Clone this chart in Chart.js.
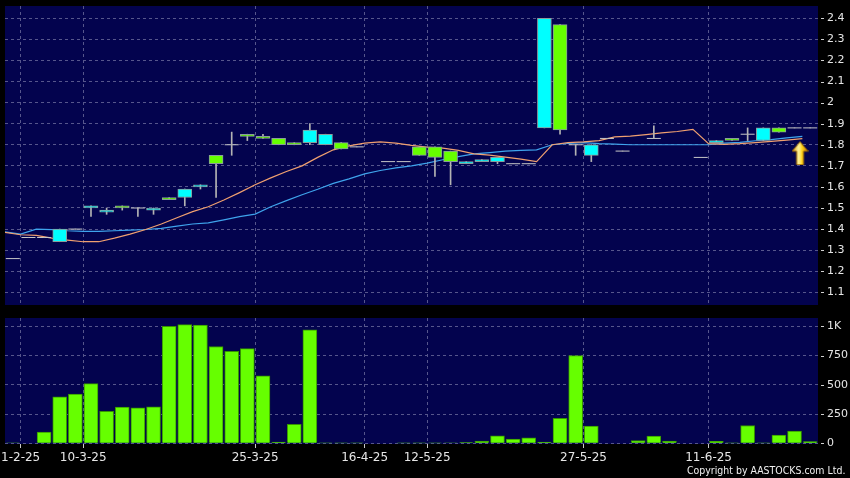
<!DOCTYPE html>
<html>
<head>
<meta charset="utf-8">
<title>Price and volume chart</title>
<script src="https://cdn.jsdelivr.net/npm/chart.js@4.4.1/dist/chart.umd.min.js"></script>
<style>
  html, body { margin:0; padding:0; background:#000; width:850px; height:478px; overflow:hidden; }
  canvas { position:absolute; left:0; display:block; }
  #priceCanvas { top:0; }
  #volumeCanvas { top:310px; }
  #copyright { position:absolute; left:687px; top:464px; color:#f0f0f0; font-family:"DejaVu Sans"; font-size:11px; line-height:normal; white-space:nowrap; transform-origin:0 0; transform:scaleX(0.855); }
</style>
</head>
<body>
<canvas id="priceCanvas" width="850" height="310"></canvas>
<canvas id="volumeCanvas" width="850" height="168"></canvas>
<div id="copyright">Copyright by AASTOCKS.com Ltd.</div>
<script>
// ---------------- data ----------------
const openPrice  = [1.26,1.36,1.36,1.34,1.40,1.50,1.48,1.51,1.50,1.49, 1.55,1.55,1.60,1.75,1.80,1.85,1.84,1.83,1.81,1.81, 1.80,1.81,1.79,null,1.72,1.72,1.79,1.79,1.77,1.71, 1.72,1.72,1.71,1.71,1.88,2.37,1.80,1.75,1.83,1.77, null,1.83,null,null,1.74,1.81,1.83,1.85,1.82,1.88, 1.88,1.88];
const highPrice  = [1.26,1.36,1.36,1.40,1.40,1.51,1.50,1.51,1.50,1.50, 1.55,1.59,1.61,1.75,1.86,1.85,1.85,1.83,1.81,1.90, 1.85,1.81,1.79,null,1.72,1.72,1.79,1.79,1.77,1.72, 1.73,1.74,1.71,1.71,2.40,2.37,1.80,1.80,1.83,1.77, null,1.89,null,null,1.74,1.82,1.83,1.88,1.88,1.88, 1.88,1.88];
const lowPrice   = [1.26,1.36,1.36,1.34,1.40,1.46,1.47,1.49,1.46,1.47, 1.54,1.51,1.59,1.55,1.75,1.82,1.83,1.80,1.80,1.80, 1.80,1.78,1.79,null,1.72,1.72,1.75,1.65,1.61,1.71, 1.72,1.71,1.71,1.71,1.88,1.85,1.75,1.72,1.83,1.77, null,1.83,null,null,1.74,1.81,1.82,1.82,1.82,1.86, 1.88,1.88];
const closePrice = [1.26,1.36,1.36,1.40,1.40,1.51,1.49,1.50,1.50,1.50, 1.54,1.59,1.61,1.71,1.80,1.84,1.83,1.80,1.80,1.87, 1.85,1.78,1.79,null,1.72,1.72,1.75,1.74,1.72,1.72, 1.73,1.74,1.71,1.71,2.40,1.87,1.80,1.80,1.83,1.77, null,1.83,null,null,1.74,1.82,1.82,1.85,1.88,1.86, 1.88,1.88];
const volume     = [5,0,95,397,422,511,273,310,304,313, 1000,1015,1011,828,787,810,578,10,162,971, 4,3,3,0,0,4,3,4,5,6, 18,64,36,47,10,213,750,148,0,0, 24,62,18,0,0,16,4,152,4,70, 104,15];
const maShort    = [1.384,1.373,1.370,1.357,1.348,1.340,1.340,1.357,1.376,1.398, 1.424,1.454,1.483,1.506,1.538,1.573,1.610,1.643,1.673,1.700, 1.740,1.776,1.795,1.808,1.814,1.808,1.797,1.789,1.784,1.773, 1.757,1.751,1.741,1.732,1.720,1.800,1.810,1.814,1.820,1.837, 1.841,1.848,1.856,1.863,1.873,1.805,1.802,1.805,1.810,1.816, 1.822,1.829];
const maLong     = [1.387,1.376,1.400,1.397,1.392,1.389,1.389,1.392,1.395,1.398, 1.403,1.414,1.424,1.429,1.444,1.459,1.471,1.506,1.535,1.563, 1.589,1.617,1.638,1.662,1.678,1.690,1.700,1.713,1.729,1.744, 1.757,1.763,1.770,1.773,1.776,1.800,1.806,1.810,1.805,1.803, 1.800,1.800,1.800,1.800,1.800,1.800,1.808,1.811,1.819,1.824, 1.833,1.840];
const dateLabels = ['1-2-25','10-3-25','25-3-25','16-4-25','12-5-25','27-5-25','11-6-25'];
const dateSlots  = [1,5,16,23,27,37,45];
const priceTicks = [1.1,1.2,1.3,1.4,1.5,1.6,1.7,1.8,1.9,2,2.1,2.2,2.3,2.4];
const volumeTicks = [0,250,500,750,1000];
const volumeTickLabels = ['0','250','500','750','1K'];
const arrowX = [50.85];
const arrowY = [1.76];

// ---------------- styles ----------------
const NAVY = '#03034e';
const GRID = '#56568c';
const CYAN = '#00ffff';
const LIME = '#66ff00';
const TEXT = '#e6e6e6';
const FONT = 'DejaVu Sans';
const slotCount = openPrice.length;
const slots = openPrice.map((_, i) => i);

Chart.defaults.font.family = FONT;

const panelPlugin = {
  id: 'panel',
  beforeDraw(chart) {
    const {ctx, chartArea: a} = chart;
    ctx.save();
    ctx.fillStyle = '#000';
    ctx.fillRect(0, 0, chart.width, chart.height);
    ctx.fillStyle = NAVY;
    ctx.fillRect(a.left, a.top, a.right - a.left, a.bottom - a.top);
    ctx.restore();
  },
  afterDraw(chart) {
    const ys = chart.scales.y;
    const {ctx, chartArea: a} = chart;
    ctx.save();
    ctx.strokeStyle = '#d0d0d0';
    ctx.lineWidth = 1;
    ys.ticks.forEach(t => {
      const py = Math.round(ys.getPixelForValue(t.value)) + 0.5;
      ctx.beginPath();
      ctx.moveTo(a.right + 3, py);
      ctx.lineTo(a.right + 6, py);
      ctx.stroke();
    });
    ctx.restore();
  }
};

function xScale(showLabels) {
  return {
    type: 'linear', min: 0, max: slotCount, offset: false, bounds: 'data',
    afterBuildTicks: s => { s.ticks = dateSlots.map(v => ({value: v})); },
    afterFit: s => { s.paddingLeft = 0; s.paddingRight = 0; s.height = showLabels ? 20 : 0; },
    grid: { display: true, color: GRID, lineWidth: 1, drawTicks: showLabels, tickLength: 4, tickColor: '#c8c8c8', tickBorderDash: [], offset: false },
    border: { display: false, dash: [3, 3] },
    ticks: { display: showLabels, autoSkip: false, maxRotation: 0, minRotation: 0, padding: 3, color: TEXT,
             font: {family: FONT, size: 12}, callback: (v, i) => dateLabels[i] }
  };
}

function yScale(min, max, tickValues, labelFn) {
  return {
    type: 'linear', position: 'right', min: min, max: max, bounds: 'data',
    afterBuildTicks: s => { s.ticks = tickValues.map(v => ({value: v})); },
    afterFit: s => { s.width = 32; s.paddingTop = 0; s.paddingBottom = 0; },
    grid: { color: GRID, lineWidth: 1, drawTicks: false },
    border: { display: false, dash: [3, 3] },
    ticks: { padding: 9, color: TEXT, font: {family: FONT, size: 11}, callback: labelFn }
  };
}

function makeArrow() {
  const c = document.createElement('canvas');
  c.width = 17; c.height = 24;
  const g = c.getContext('2d');
  const grad = g.createLinearGradient(0, 0, 17, 0);
  grad.addColorStop(0, '#c98500');
  grad.addColorStop(0.42, '#fff6a0');
  grad.addColorStop(0.62, '#ffd21a');
  grad.addColorStop(1, '#b87000');
  g.beginPath();
  g.moveTo(8.5, 0.5);
  g.lineTo(16.5, 10);
  g.lineTo(12, 10);
  g.lineTo(12, 23.5);
  g.lineTo(5, 23.5);
  g.lineTo(5, 10);
  g.lineTo(0.5, 10);
  g.closePath();
  g.fillStyle = grad;
  g.fill();
  g.strokeStyle = '#9a6400';
  g.lineWidth = 1;
  g.stroke();
  return c;
}

// ---------------- derived datasets ----------------
const isBody = i => openPrice[i] !== null && openPrice[i] !== closePrice[i];
const isDoji = i => openPrice[i] !== null && openPrice[i] === closePrice[i];
const bodyData = slots.map(i => ({x: i + 0.5, y: isBody(i) ? [openPrice[i], closePrice[i]] : null}));
const bodyColors = slots.map(i => (closePrice[i] > openPrice[i] ? CYAN : LIME));
const wickData = slots.map(i => ({x: i + 0.5, y: openPrice[i] === null ? null : [lowPrice[i], highPrice[i]]}));
const dojiData = slots.map(i => ({x: i + 0.5, y: isDoji(i) ? closePrice[i] : null}));
const shortData = slots.map(i => ({x: i, y: maShort[i]}));
const longData = slots.map(i => ({x: i, y: maLong[i]}));
const arrowData = arrowX.map((x, k) => ({x: x, y: arrowY[k]}));
const volumeData = slots.map(i => ({x: i + 0.5, y: volume[i]}));

new Chart(document.getElementById('priceCanvas'), {
  type: 'bar',
  data: {
    datasets: [
      { type: 'line', data: arrowData, showLine: false, pointStyle: makeArrow(), pointRadius: 8, order: 0 },
      { type: 'bar', data: bodyData, backgroundColor: bodyColors, borderColor: '#8a9c9c', borderWidth: 1,
        borderSkipped: false, grouped: false, barThickness: 14, maxBarThickness: 14, order: 1 },
      { type: 'bar', data: wickData, backgroundColor: '#b4b4b4', borderWidth: 0, grouped: false,
        barThickness: 1, maxBarThickness: 1, order: 2 },
      { type: 'line', data: dojiData, showLine: false, pointStyle: 'line', pointRadius: 7,
        pointBorderWidth: 1, pointBorderColor: '#c8c8c8', pointBackgroundColor: '#c8c8c8', order: 3 },
      { type: 'line', data: shortData, borderColor: '#f0a070', borderWidth: 1.2, pointRadius: 0, tension: 0, fill: false, order: 4 },
      { type: 'line', data: longData, borderColor: '#3fa4ec', borderWidth: 1.2, pointRadius: 0, tension: 0, fill: false, order: 5 }
    ]
  },
  options: {
    responsive: false, animation: false, events: [],
    layout: { autoPadding: false, padding: {left: 5, right: 0, top: 6, bottom: 5} },
    plugins: { legend: {display: false}, tooltip: {enabled: false} },
    scales: {
      x: xScale(false),
      y: yScale(1.0398, 2.4583, priceTicks, v => String(v))
    }
  },
  plugins: [panelPlugin]
});

new Chart(document.getElementById('volumeCanvas'), {
  type: 'bar',
  data: {
    datasets: [
      { type: 'bar', data: volumeData, backgroundColor: LIME, borderColor: '#379400', borderWidth: 1,
        borderSkipped: 'start', grouped: false, barThickness: 14, maxBarThickness: 14 }
    ]
  },
  options: {
    responsive: false, animation: false, events: [],
    layout: { autoPadding: false, padding: {left: 5, right: 0, top: 8, bottom: 14} },
    plugins: { legend: {display: false}, tooltip: {enabled: false} },
    scales: {
      x: xScale(true),
      y: yScale(-6, 1072, volumeTicks, (v, i) => volumeTickLabels[i])
    }
  },
  plugins: [panelPlugin]
});
</script>
</body>
</html>
